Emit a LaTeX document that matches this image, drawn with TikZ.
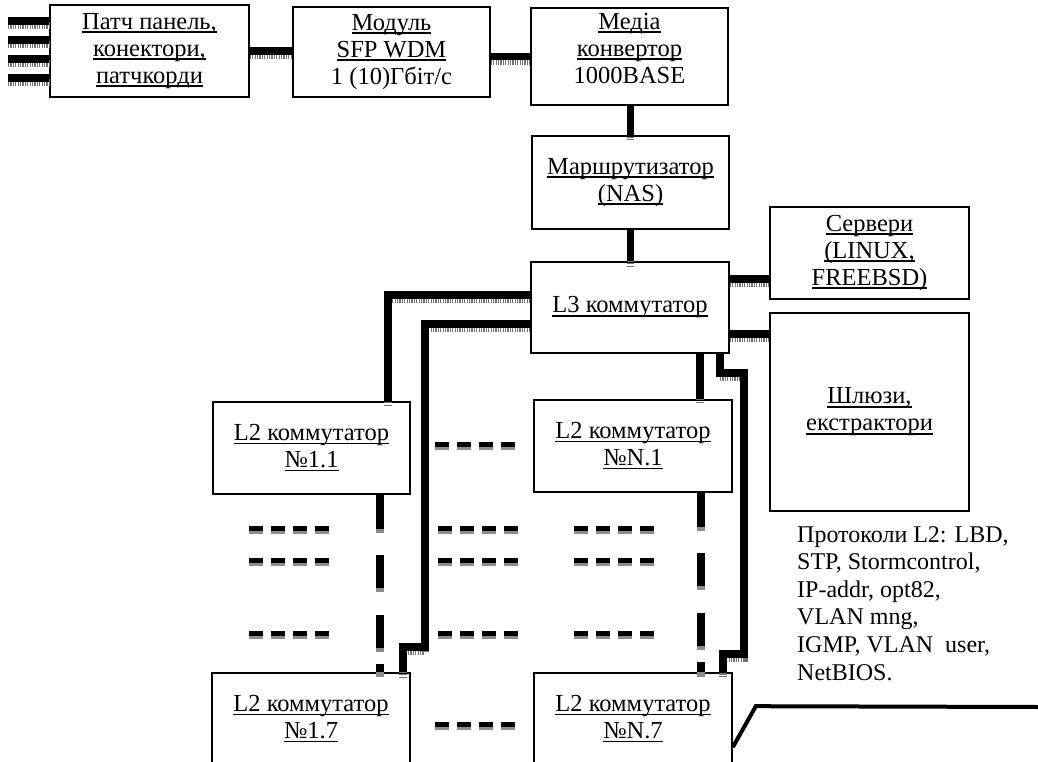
\documentclass[tikz,border=0pt]{standalone}
\usepackage{fontspec}
\setmainfont{Liberation Serif}
\usetikzlibrary{positioning}

\newcommand\lnk[1]{\setbox0\hbox{#1}\rlap{\rule[-0.15em]{\wd0}{0.075em}}\box0}

\begin{document}
\begin{tikzpicture}[x=1pt,y=-1pt,
    box/.style={draw,line width=1.6,minimum width=197,minimum height=92,inner sep=0,
      align=center,font=\fontsize{24.5}{27}\selectfont},
    cable/.style={line width=7.5,preaction={draw,black!55,line width=7.5,
      dash pattern=on 1.2 off 1.2,transform canvas={yshift=-4.5}}},
    dcable/.style={line width=7.5,dash pattern=#1,preaction={draw,black!45,line width=7.5,
      dash pattern=#1,transform canvas={yshift=-4.5}}},
    ellip/.style={line width=5,dash pattern=on 14 off 8,preaction={draw,black!45,line width=5,
      dash pattern=on 14 off 8,transform canvas={yshift=-3.5}}}]

    \clip (0,0) rectangle (1038,762);

    \node[box,minimum width=199] (patch) at (149.5,51) {\lnk{Патч панель,}\\\lnk{конектори,}\\\lnk{патчкорди}};

    \node[box,minimum height=90] (sfp) at (391.5,52) {\lnk{Модуль}\\\lnk{SFP WDM}\\1 (10)Гбіт/с};

    \node[box,minimum height=97] (media) at (629.5,56.5) {\lnk{Медіа}\\\lnk{конвертор}\\1000BASE\\[-10pt]\mbox{}};

    \node[box,minimum height=93] (router) at (630.5,182.5) {\lnk{Маршрутизатор}\\\lnk{(NAS)}};

    \node[box,minimum width=198,minimum height=91] (l3) at (630,307.5) {\lnk{L3 коммутатор}};

    \node[box,minimum width=199] (srv) at (869.5,253) {\lnk{Сервери}\\\lnk{(LINUX,}\\\lnk{FREEBSD)}};

    \node[box,minimum width=199,minimum height=198] (gw) at (869.5,412) {\lnk{Шлюзи,}\\\lnk{екстрактори}};

    \node[box] (l11) at (311.5,448) {\lnk{L2 коммутатор}\\\lnk{№1.1}};

    \node[box,minimum width=198] (ln1) at (633,446) {\lnk{L2 коммутатор}\\\lnk{№N.1}};

    \node[box,minimum width=198] (l17) at (311,719) {\lnk{L2 коммутатор}\\\lnk{№1.7}};

    \node[box,minimum width=198] (ln7) at (633,719) {\lnk{L2 коммутатор}\\\lnk{№N.7}};

    \node[anchor=north west,align=left,inner sep=0,font=\fontsize{24}{27.6}\selectfont] (prot) at (797,526)
      {Протоколи L2: LBD,\\STP, Stormcontrol,\\IP-addr, opt82,\\VLAN mng,\\IGMP, VLAN\ \ user,\\NetBIOS.};


    \foreach \y in {21,40,59,78} {
      \coordinate (in\y) at (8,\y);
      \draw[cable] (in\y) -- (in\y -| patch.west);
    }

    \draw[cable] (patch.east) -- (patch.east -| sfp.west);
    \draw[cable] (media.west -| sfp.east) -- (media.west);
    \draw[cable] (router.north |- media.south) -- (router.north);
    \draw[cable] (router.south) -- (router.south |- l3.north);

    \coordinate (a) at ([yshift=-18]l3.north east);
    \draw[cable] (a) -- (a -| srv.west);
    \coordinate (b) at ([yshift=20]l3.south east);
    \draw[cable] (b) -- (b -| gw.west);

    \coordinate (c) at ([yshift=-34]l3.north west);
    \draw[cable] (c) -| ([xshift=-23]l11.north east);
    \coordinate (d) at ([yshift=-63]l3.north west);
    \draw[cable] (d) -| ([xshift=14,yshift=25]l17.north east) -| ([xshift=-8]l17.north east);

    \coordinate (e) at ([xshift=-33]ln1.north east);
    \draw[cable] (e |- l3.south) -- (e);
    \coordinate (f) at ([xshift=-13]ln7.north east);
    \draw[cable] (f |- l3.south) -- ++(0,19) -| ([xshift=11,yshift=18]ln7.north east) -| ([xshift=-10]ln7.north east);

    \coordinate (g) at ([xshift=-31]l11.south east);
    \draw[dcable={on 34 off 26 on 33 off 27 on 33 off 16 on 12}] (g) -- (g |- l17.north);
    \coordinate (h) at ([xshift=-32]ln1.south east);
    \draw[dcable={on 34 off 26 on 33 off 27 on 33 off 16 on 12}] (h) -- (h |- ln7.north);


    \draw[ellip] (435,444) -- (515,444);
    \foreach \y in {528,560,633} {
      \draw[ellip] (249,\y) -- (330,\y);
      \draw[ellip] (438,\y) -- (519,\y);
      \draw[ellip] (574,\y) -- (654,\y);
    }
    \draw[ellip] (435,724) -- (515,724);

    \draw[line width=4] ([yshift=-75]ln7.north east) -- ++(23,-41) -- (1038,707);

\end{tikzpicture}
\end{document}
